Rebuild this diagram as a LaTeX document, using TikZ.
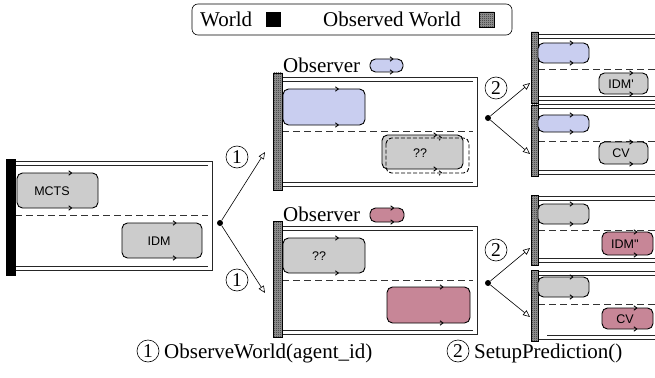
\documentclass[tikz,border=0pt]{standalone}
\usepackage{fontspec}
\setmainfont{Liberation Serif}
\newfontfamily\carfont{Liberation Sans}
\usetikzlibrary{arrows.meta,patterns}

\definecolor{egoblue}{RGB}{201,206,240}
\definecolor{egored}{RGB}{199,134,151}
\definecolor{othergray}{RGB}{204,204,204}

\pgfdeclarepatternformonly{finechecker}{\pgfpointorigin}{\pgfqpoint{2pt}{2pt}}{\pgfqpoint{2pt}{2pt}}{%
    \pgfpathrectangle{\pgfpointorigin}{\pgfqpoint{1pt}{1pt}}%
    \pgfpathrectangle{\pgfqpoint{1pt}{1pt}}{\pgfqpoint{1pt}{1pt}}%
    \pgfusepath{fill}}

\tikzset{
    laneline/.style={line width=0.8pt,draw=black!85},
    lanemark/.style={line width=0.8pt,draw=black!80,dash pattern=on 7pt off 4pt},
    worldbar/.style={fill=black,draw=black},
    obsbar/.style={draw=black,line width=0.7pt,preaction={fill=black!40},pattern=finechecker,pattern color=black!85},
    carbody/.style={line width=0.9pt,line join=round},
    ghostcar/.style={carbody,dash pattern=on 4pt off 2pt},
    carlabel/.style={font=\carfont\fontsize{12.5}{14}\selectfont,inner sep=0pt},
    splitdot/.style={circle,fill=black,inner sep=0pt,minimum size=6pt},
    flow/.style={line width=0.6pt,-{Triangle[open,length=7pt,width=6pt]}},
    stepnum/.style={circle,draw,line width=0.6pt,inner sep=0pt,minimum size=22pt,font=\fontsize{19.5}{20}\selectfont},
    bigtext/.style={font=\fontsize{21}{24}\selectfont,inner sep=0pt,anchor=base west},
}

% car outline: style, x, y (top left), width, height, fill
\newcommand{\vehicle}[6]{%
    \begin{scope}[shift={(#2,#3)}]
        \pgfmathsetmacro\vjx{0.66*#4}
        \draw[#1,fill=#6,rounded corners=5.5pt] (0,0) rectangle (#4,#5);
        \draw[#1] (\vjx-1.8,-2.2) -- (\vjx+1.2,0) -- (\vjx-1.8,2.2)
            (\vjx-1.8,#5-2.2) -- (\vjx+1.2,#5) -- (\vjx-1.8,#5+2.2);
    \end{scope}}

% lane: left x, top y, bottom y, dash y, right end
\newcommand{\lanebox}[5]{%
    \draw[laneline] (#1,#2) -- (#5+4,#2) -- (#5+4,#3) -- (#1,#3);
    \draw[laneline] (#1,#2+4) -- (#5,#2+4) (#1,#3-4) -- (#5,#3-4);
    \draw[lanemark] (#1,#4) -- (#5,#4);}

\begin{document}
\begin{tikzpicture}[x=1pt,y=-1pt]
    \clip (0,0) rectangle (655,377);

    % legend
    \draw[line width=0.6pt,rounded corners=6pt] (192,4) rectangle (512,35);
    \node[bigtext] (worldtxt) at (200,27) {World};
    \fill (266,12) rectangle (281,27);
    \node[bigtext] (obstxt) at (323,27) {Observed World};
    \draw[obsbar] (479,12) rectangle (494,27);

    % world
    \lanebox{15}{161}{270}{215}{208}
    \draw[worldbar] (6,159) rectangle (15,275);
    \vehicle{carbody}{17}{173}{81}{35}{othergray}
    \node[carlabel] (mcts) at (52,191) {MCTS};
    \vehicle{carbody}{122}{223}{80}{35}{othergray}
    \node[carlabel] (idm) at (159,241) {IDM};

    % observed worlds
    \lanebox{282}{77}{186}{131}{473}
    \draw[obsbar] (273,73) rectangle (282,190);
    \node[bigtext] (obsA) at (283,73) {Observer};
    \vehicle{carbody}{370}{59}{33}{13}{egoblue}
    \vehicle{carbody}{283}{89}{82}{36}{egoblue}
    \vehicle{carbody}{382}{135}{81}{34}{othergray}
    \vehicle{ghostcar}{386}{138}{83}{35}{none}
    \node[carlabel] (unkA) at (420,153) {??};

    \lanebox{282}{226}{334}{280}{473}
    \draw[obsbar] (273,221) rectangle (282,337);
    \node[bigtext] (obsB) at (283,221) {Observer};
    \vehicle{carbody}{370}{208}{34}{14}{egored}
    \vehicle{carbody}{283}{238}{82}{35}{othergray}
    \node[carlabel] (unkB) at (319,256) {??};
    \vehicle{carbody}{387}{287}{83}{36}{egored}

    % predictions
    \lanebox{538}{34}{100}{69}{660}
    \draw[obsbar] (531,32) rectangle (538,103);
    \vehicle{carbody}{538}{43}{51}{20}{egoblue}
    \vehicle{carbody}{599}{73}{49}{21}{othergray}
    \node[carlabel] (idmA) at (621,84) {IDM'};

    \lanebox{538}{104}{174}{141}{660}
    \draw[obsbar] (531,105) rectangle (538,176);
    \vehicle{carbody}{538}{115}{51}{17}{egoblue}
    \vehicle{carbody}{599}{142}{49}{22}{othergray}
    \node[carlabel] (cvA) at (621,153) {CV};

    \lanebox{538}{196}{262}{230}{660}
    \draw[obsbar] (531,195) rectangle (538,265);
    \vehicle{carbody}{538}{204}{51}{20}{othergray}
    \vehicle{carbody}{602}{232}{51}{23}{egored}
    \node[carlabel] (idmB) at (625,244) {IDM''};

    \draw[laneline] (538,271) -- (660,271) (538,275) -- (660,275) (538,339) -- (660,339) (547,335) -- (660,335);
    \draw[lanemark] (538,304) -- (660,304);
    \draw[obsbar] (531,270) rectangle (538,341);
    \vehicle{carbody}{538}{277}{51}{20}{othergray}
    \vehicle{carbody}{602}{308}{51}{21}{egored}
    \node[carlabel] (cvB) at (625,319) {CV};

    % branching
    \node[splitdot] (splitW) at (220,223) {};
    \coordinate (toA) at (265,152);
    \coordinate (toB) at (265,293);
    \draw[flow] (splitW) -- (toA);
    \draw[flow] (splitW) -- (toB);
    \node[stepnum] (oneA) at (237,157) {1};
    \node[stepnum] (oneB) at (237,280) {1};

    \node[splitdot] (splitA) at (488,118) {};
    \coordinate (toA1) at (530,83);
    \coordinate (toA2) at (530,154);
    \draw[flow] (splitA) -- (toA1);
    \draw[flow] (splitA) -- (toA2);
    \node[stepnum] (twoA) at (496,88) {2};

    \node[splitdot] (splitB) at (488,283) {};
    \coordinate (toB1) at (530,248);
    \coordinate (toB2) at (530,317);
    \draw[flow] (splitB) -- (toB1);
    \draw[flow] (splitB) -- (toB2);
    \node[stepnum] (twoB) at (496,250) {2};

    % caption
    \node[stepnum] (capone) at (148,351) {1};
    \node[bigtext] (captxtA) at (164,358) {ObserveWorld(agent\_id)};
    \node[stepnum] (captwo) at (458,351) {2};
    \node[bigtext] (captxtB) at (474,358) {SetupPrediction()};
\end{tikzpicture}
\end{document}
